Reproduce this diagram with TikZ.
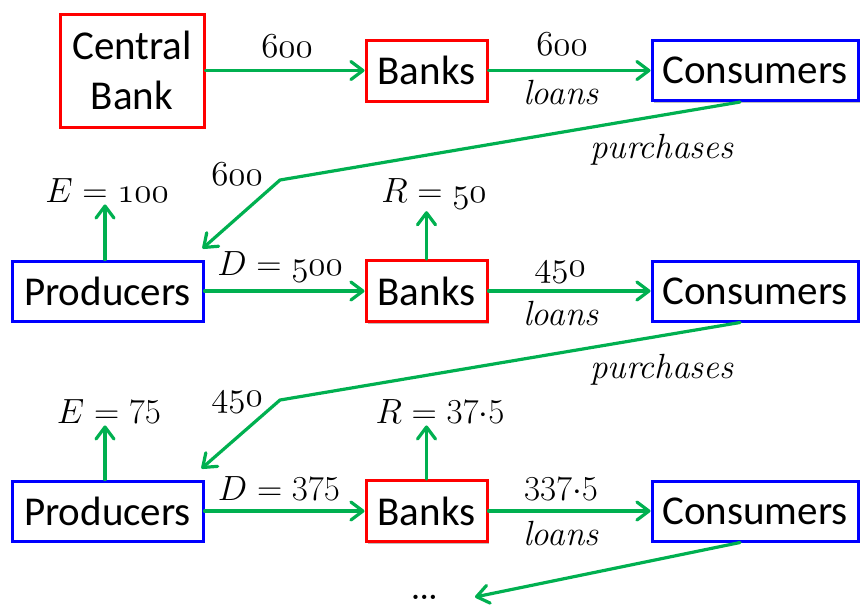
\RequirePackage{fix-cm}
\documentclass[tikz,border=0pt]{standalone}
\usepackage{fontspec}
\newfontfamily\boxfont{Carlito}
\usepackage{tikz}
\usetikzlibrary{arrows.meta,shadows}
\definecolor{flowgreen}{RGB}{0,176,80}
\definecolor{bankred}{RGB}{255,0,0}
\definecolor{agentblue}{RGB}{0,0,255}
\tikzset{
  box/.style={line width=1.5pt,fill=white,inner sep=0pt,align=center,text=black,
    font=\boxfont\fontsize{20.5}{25}\selectfont,
    drop shadow={shadow xshift=1.2pt,shadow yshift=-1.2pt,fill=black,opacity=0.25}},
  bank/.style={box,draw=bankred,minimum width=60.5pt,minimum height=30.5pt},
  agent/.style={box,draw=agentblue,minimum height=30pt},
  flow/.style={-{Straight Barb[length=6pt,width=9pt,line cap=round,line join=round]},
    flowgreen,line width=1.6pt,line cap=round,line join=round},
  lbl/.style={anchor=base,inner sep=1pt,font=\fontsize{17.5}{21}\selectfont}
}

\begin{document}
\begin{tikzpicture}[x=0.5pt,y=-0.5pt]
\useasboundingbox (0,0) rectangle (861,607);

% round 1
\node[box,draw=bankred,minimum width=72pt,minimum height=56.5pt] (cb) at (132,70.5) {Central\\Bank};
\node[bank] (bk1) at (426.5,70.5) {Banks};
\node[agent,minimum width=103pt] (co1) at (755,70.5) {Consumers};
\node[lbl] (m1) at (287,57) {$\mathnormal{600}$};
\node[lbl] (l1) at (562,55) {$\mathnormal{600}$};
\node[lbl] (ln1) at (561,104) {\textit{loans}};
\node[lbl] (p1) at (662,158) {\textit{purchases}};
\node[lbl] (s1) at (237,185) {$\mathnormal{600}$};
\coordinate (k1) at (280,180);
\draw[flow] (cb) -- (bk1);
\draw[flow] (bk1) -- (co1);

% round 2
\node[agent,minimum width=95.5pt] (pr2) at (107.5,291) {Producers};
\node[bank] (bk2) at (426.5,291) {Banks};
\node[agent,minimum width=103pt] (co2) at (755,291) {Consumers};
\node[lbl] (e2) at (107,202) {$E = \mathnormal{100}$};
\node[lbl] (r2) at (434,202) {$R = \mathnormal{50}$};
\node[lbl] (d2) at (280,275) {$D = \mathnormal{500}$};
\node[lbl] (l2) at (560,276) {$\mathnormal{450}$};
\node[lbl] (ln2) at (561,325) {\textit{loans}};
\node[lbl] (p2) at (662,378) {\textit{purchases}};
\node[lbl] (s2) at (237,406) {$\mathnormal{450}$};
\coordinate (k2) at (280,400);
\draw[flow] ([xshift=-7.5pt]co1.south) -- (k1) -- ([shift={(-1pt,5.5pt)}]pr2.north east);
\draw[flow] ([xshift=-1.25pt]pr2.north) -- ([xshift=-1.25pt]pr2.north |- e2.south);
\draw[flow] (bk2.north) -- (bk2.north |- r2.south);
\draw[flow] (pr2) -- (bk2);
\draw[flow] (bk2) -- (co2);

% round 3
\node[agent,minimum width=95.5pt] (pr3) at (107.5,511) {Producers};
\node[bank] (bk3) at (426.5,511) {Banks};
\node[agent,minimum width=103pt] (co3) at (755,511) {Consumers};
\node[lbl] (e3) at (109,423) {$E = 75$};
\node[lbl] (r3) at (440,423) {$R = 37{\cdot}5$};
\node[lbl] (d3) at (279,500) {$D = 375$};
\node[lbl] (l3) at (561,500) {$337{\cdot}5$};
\node[lbl] (ln3) at (561,545) {\textit{loans}};
\node[font=\fontsize{26}{30}\selectfont,inner sep=0pt,anchor=base] (dots) at (425,599) {\dots};
\coordinate (end) at (475,597);
\draw[flow] ([xshift=-7.5pt]co2.south) -- (k2) -- ([shift={(-1.5pt,5.5pt)}]pr3.north east);
\draw[flow] ([xshift=-1.25pt]pr3.north) -- ([xshift=-1.25pt]pr3.north |- e3.south);
\draw[flow] (bk3.north) -- (bk3.north |- r3.south);
\draw[flow] (pr3) -- (bk3);
\draw[flow] (bk3) -- (co3);
\draw[flow] ([xshift=-7.5pt]co3.south) -- (end);
\end{tikzpicture}
\end{document}
